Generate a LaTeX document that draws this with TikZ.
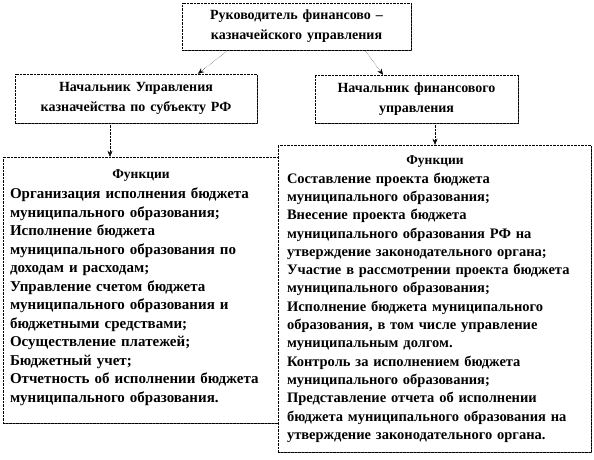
\documentclass[tikz,border=0pt]{standalone}
\usepackage{fontspec}
\setmainfont[WordSpace=1.4]{Liberation Serif}
\usetikzlibrary{shadows,arrows.meta}

\begin{document}
\begin{tikzpicture}[
  x=1pt, y=1pt,
  head_box/.style={rectangle, draw, densely dotted, fill=white, align=center, inner sep=2pt,
    font=\bfseries\fontsize{14}{20}\selectfont,
    drop shadow={shadow xshift=1.2pt, shadow yshift=-1.2pt, fill=black!70, opacity=1}},
  func_box/.style={rectangle, draw, densely dotted, fill=white, inner sep=0pt,
    drop shadow={shadow xshift=1.2pt, shadow yshift=-1.2pt, fill=black!70, opacity=1}},
  func_text/.style={inner sep=0pt, align=left, font=\bfseries\fontsize{15}{18.5}\selectfont},
  link/.style={densely dotted, -{Stealth[length=6pt, width=5pt]}},
]
\useasboundingbox (0,0) rectangle (594,-459);
\draw (296.5,-26.5) node (ruk) [head_box, minimum width=229pt, minimum height=47pt] {Руководитель финансово --\\казначейского управления};
\draw (136,-98.5) node (kazn) [head_box, minimum width=242pt, minimum height=49pt] {Начальник Управления\\казначейства по субъекту РФ};
\draw (416.5,-99) node (fin) [head_box, minimum width=203pt, minimum height=48pt] {Начальник финансового\\управления};
\draw (140.5,-290) node (fkazn) [func_box, minimum width=275pt, minimum height=266pt] {};
\draw (434.5,-298.5) node (ffin) [func_box, minimum width=313pt, minimum height=307pt] {};
\draw ([xshift=7pt,yshift=-13pt]fkazn.north west) node (fkazn_txt) [func_text, below right, text width=268pt] {\makebox[262pt]{\fontsize{13.5}{18.5}\selectfont Функции}\\[1.5pt]
Организация исполнения бюджета\\
муниципального образования;\\
Исполнение бюджета\\
муниципального образования по\\
доходам  и расходам;\\
Управление счетом бюджета\\
муниципального образования и\\
бюджетными средствами;\\
Осуществление платежей;\\
Бюджетный учет;\\
Отчетность об исполнении бюджета\\
муниципального образования.};
\draw ([xshift=9pt,yshift=-11pt]ffin.north west) node (ffin_txt) [func_text, below right, text width=310pt, font=\bfseries\fontsize{14.5}{18.3}\selectfont] {\makebox[296pt]{\fontsize{13.5}{18.3}\selectfont Функции}\\
Составление проекта бюджета\\
муниципального образования;\\
Внесение проекта бюджета\\
муниципального образования РФ на\\
утверждение законодательного  органа;\\
Участие в рассмотрении проекта бюджета\\
муниципального образования;\\
Исполнение бюджета муниципального\\
образования, в том числе управление\\
муниципальным долгом.\\
Контроль за исполнением бюджета\\
муниципального образования;\\
Представление отчета об исполнении\\
бюджета муниципального образования на\\
утверждение законодательного  органа.};
\draw [link] ([xshift=-68.5pt]ruk.south) -- ([xshift=62pt]kazn.north);
\draw [link] ([xshift=68.5pt]ruk.south) -- ([xshift=-33.5pt]fin.north);
\draw [link] ([xshift=-26pt]kazn.south) -- ([xshift=-26pt]kazn.south |- fkazn.north);
\draw [link] ([xshift=18.5pt]fin.south) -- ([xshift=18.5pt]fin.south |- ffin.north);
\end{tikzpicture}
\end{document}
